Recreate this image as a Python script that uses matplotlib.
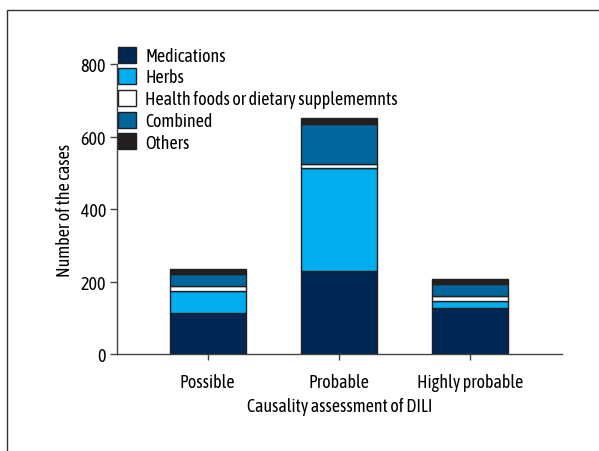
import matplotlib
matplotlib.use("Agg")
import matplotlib.pyplot as plt
from matplotlib.patches import Rectangle
import numpy as np

plt.rcParams['font.family'] = ['Asap Condensed', 'DejaVu Sans']
FS = 13

categories = ["Possible", "Probable", "Highly probable"]
series_names = ["Medications", "Herbs", "Health foods or dietary supplememnts", "Combined", "Others"]
medications = [113, 229, 128]
herbs = [63, 284, 20]
health_foods = [12, 12, 14]
combined = [35, 110, 32]
others = [13, 16, 14]
colors = ["#002855", "#00aeef", "#ffffff", "#00669c", "#231f20"]
yticks = [0, 200, 400, 600, 800]

fig = plt.figure(figsize=(5.99, 4.52), dpi=100)
ax = fig.add_axes([0.1958, 0.2135, 0.9377 - 0.1958, 0.8562 - 0.2135])

x = np.arange(len(categories))
bottom = np.zeros(len(categories))
handles = []
for name, vals, col in zip(series_names, [medications, herbs, health_foods, combined, others], colors):
    b = ax.bar(x, vals, width=0.58, bottom=bottom, color=col, edgecolor="#231f20",
               linewidth=1.0, label=name, zorder=3)
    handles.append(b)
    bottom += np.array(vals)

ax.set_xlim(-0.69, 2.70)
ax.set_ylim(0, 800)
ax.set_yticks(yticks)
ax.set_yticklabels([str(v) for v in yticks], fontsize=FS)
ax.set_xticks(x)
ax.set_xticklabels(categories, fontsize=FS)
for s in ["top", "right"]:
    ax.spines[s].set_visible(False)
for s in ["left", "bottom"]:
    ax.spines[s].set_color("#444444")
    ax.spines[s].set_linewidth(1.0)
ax.tick_params(axis="y", direction="out", length=5, width=1, color="#444444", pad=3)
ax.tick_params(axis="x", direction="out", length=4, width=1, color="#444444", pad=9)

ax.set_ylabel("Number of the cases", fontsize=FS, labelpad=5)
ax.set_xlabel("Causality assessment of DILI", fontsize=FS, labelpad=5)

leg = fig.legend(handles=handles, labels=series_names, loc="upper left",
                 bbox_to_anchor=(118 / 599, 1 - 47.5 / 452), frameon=False, fontsize=FS,
                 handlelength=1.0, handleheight=1.0, handletextpad=0.5,
                 labelspacing=0.19, borderpad=0, borderaxespad=0)

fig.patches.append(Rectangle((7 / 599, -0.1), 1.2, 1 - 11 / 452 + 0.1, transform=fig.transFigure,
                             fill=False, edgecolor="#333333", linewidth=1.0))

fig.savefig("out.png", dpi=100)
